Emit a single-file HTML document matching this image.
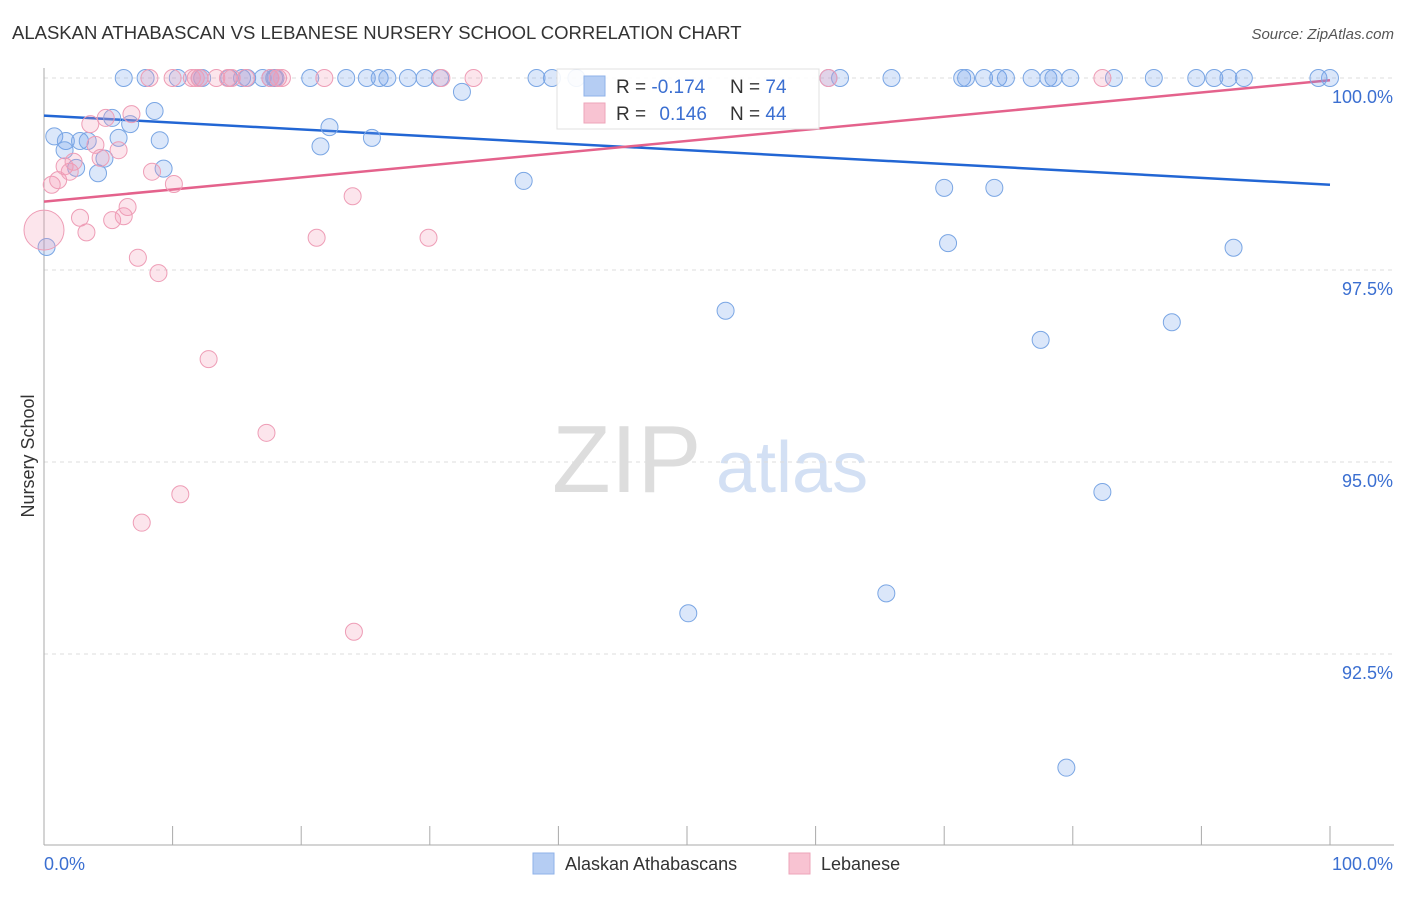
<!DOCTYPE html>
<html><head><meta charset="utf-8"><style>
body{margin:0;background:#fff;font-family:"Liberation Sans",sans-serif;}
svg text{font-family:"Liberation Sans",sans-serif;}
</style></head><body>
<svg id="chart" width="1406" height="892" xmlns="http://www.w3.org/2000/svg">
<text x="12" y="39" font-size="18.5" fill="#333">ALASKAN ATHABASCAN VS LEBANESE NURSERY SCHOOL CORRELATION CHART</text>
<text x="1394" y="39" font-size="15" fill="#555" font-style="italic" text-anchor="end">Source: ZipAtlas.com</text>
<text x="34" y="456" font-size="18" fill="#333" transform="rotate(-90 34 456)" text-anchor="middle">Nursery School</text>
<g><text x="552" y="492" font-size="96" fill="#ddd" font-family="Liberation Serif">ZIP</text><text x="716" y="492" font-size="72" fill="#d3e0f4">atlas</text></g>
<g id="grid"></g><g id="axes"></g><g id="lines"></g><g id="pts"></g>
<g>
<rect x="557" y="69" width="262" height="60" fill="#fff" stroke="#ddd" opacity="0.9"/>
<rect x="584" y="76" width="21" height="20" fill="#b5cdf3" stroke="#8fb2e8"/>
<rect x="584" y="103" width="21" height="20" fill="#f8c3d2" stroke="#eea4ba"/>
<text x="616" y="93" font-size="19" fill="#333">R = <tspan fill="#3b6fd1">-0.174</tspan></text>
<text x="730" y="93" font-size="19" fill="#333">N = <tspan fill="#3b6fd1">74</tspan></text>
<text x="616" y="120" font-size="19" fill="#333">R = <tspan fill="#3b6fd1" dx="8">0.146</tspan></text>
<text x="730" y="120" font-size="19" fill="#333">N = <tspan fill="#3b6fd1">44</tspan></text>
</g>
<g>
<rect x="533" y="853" width="21" height="21" fill="#b5cdf3" stroke="#8fb2e8"/>
<text x="565" y="870" font-size="18" fill="#333">Alaskan Athabascans</text>
<rect x="789" y="853" width="21" height="21" fill="#f8c3d2" stroke="#eea4ba"/>
<text x="821" y="870" font-size="18" fill="#333">Lebanese</text>
</g>
</svg>
<script>
const yTicks=[100,97.5,95,92.5];
const yTickLabels=["100.0%","97.5%","95.0%","92.5%"];
const xTicks=[0,10,20,30,40,50,60,70,80,90,100];
const blueX=[6.2,7.9,10.4,12.1,12.3,14.4,15.4,15.8,17.0,17.6,17.9,18.0,20.7,23.5,25.1,26.1,26.7,28.3,29.6,30.8,38.3,39.5,41.4,61.0,61.9,65.9,71.4,71.7,73.1,74.2,74.8,76.8,78.1,78.5,79.8,83.2,86.3,89.6,91.0,92.1,93.3,99.1,100,
32.5,0.8,1.7,1.6,2.8,3.4,4.2,2.5,4.7,5.3,5.8,6.7,8.6,9.0,9.3,22.2,21.5,25.5,37.3,0.2,70.0,73.9,70.3,92.5,53.0,87.7,77.5,82.3,65.5,50.1,79.5];
const blueY=[100,100,100,100,100,100,100,100,100,100,100,100,100,100,100,100,100,100,100,100,100,100,100,100,100,100,100,100,100,100,100,100,100,100,100,100,100,100,100,100,100,100,100,
99.82,99.24,99.18,99.06,99.18,99.18,98.76,98.83,98.95,99.48,99.22,99.40,99.57,99.19,98.82,99.36,99.11,99.22,98.66,97.80,98.57,98.57,97.85,97.79,96.97,96.82,96.59,94.61,93.29,93.03,91.02];
const pinkX=[8.2,10.0,11.5,11.8,12.1,13.4,14.3,14.6,15.7,17.6,18.2,18.5,21.8,30.9,33.4,61.0,82.3,
0,0.6,1.1,1.6,2.0,2.3,2.8,3.3,3.6,4.0,4.4,4.8,5.3,5.8,6.2,6.5,6.8,7.3,8.4,8.9,10.1,12.8,17.3,10.6,7.6,24.1,21.2,24.0,29.9];
const pinkY=[100,100,100,100,100,100,100,100,100,100,100,100,100,100,100,100,100,
98.02,98.61,98.67,98.85,98.78,98.91,98.18,97.99,99.40,99.13,98.96,99.48,98.15,99.06,98.20,98.32,99.53,97.66,98.78,97.46,98.62,96.34,95.38,94.58,94.21,92.79,97.92,98.46,97.92];
const pinkBig=[17];
const blueTrend=[99.51,98.61];
const pinkTrend=[98.39,99.97];
const NS="http://www.w3.org/2000/svg";
const X=v=>44+v*12.86, Y=v=>78+(100-v)*76.8;
function mk(t,a,p){const e=document.createElementNS(NS,t);for(const k in a)e.setAttribute(k,a[k]);document.getElementById(p).appendChild(e);return e;}
yTicks.forEach((t,i)=>{
 const l=mk('line',{x1:44,x2:1394,y1:Y(t),y2:Y(t),stroke:'#ddd','stroke-dasharray':'4,4'},'grid');
 
 
 const tx=mk('text',{x:1393,y:Y(t)+25,'font-size':18,fill:'#3b6fd1','text-anchor':'end'},'grid');
 tx.textContent=yTickLabels[i];
 
 
});
let a=mk('line',{x1:44,x2:44,y1:68,y2:845,stroke:'#aaa'},'axes');


a=mk('line',{x1:44,x2:1394,y1:845,y2:845,stroke:'#aaa'},'axes');


xTicks.forEach(t=>{const l=mk('line',{x1:X(t),x2:X(t),y1:826,y2:845,stroke:'#aaa'},'axes');
 
 });
let t=mk('text',{x:44,y:870,'font-size':18,fill:'#3b6fd1'},'axes');t.textContent='0.0%';


t=mk('text',{x:1393,y:870,'font-size':18,fill:'#3b6fd1','text-anchor':'end'},'axes');t.textContent='100.0%';


blueX.forEach((x,i)=>{const c=mk('circle',{cx:X(x),cy:Y(blueY[i]),r:8.5,fill:'rgba(110,160,235,0.25)',stroke:'#7aa6e4','stroke-width':1},'pts');
 
 });
pinkX.forEach((x,i)=>{const c=mk('circle',{cx:X(x),cy:Y(pinkY[i]),r:pinkBig.includes(i)?20:8.5,fill:'rgba(245,150,180,0.25)',stroke:'#ee9db6','stroke-width':1},'pts');
 
 });
let ln=mk('line',{x1:X(0),y1:Y(blueTrend[0]),x2:X(100),y2:Y(blueTrend[1]),stroke:'#2266d4','stroke-width':2.5},'lines');


ln=mk('line',{x1:X(0),y1:Y(pinkTrend[0]),x2:X(100),y2:Y(pinkTrend[1]),stroke:'#e4628c','stroke-width':2.5},'lines');


</script>
</body></html>
